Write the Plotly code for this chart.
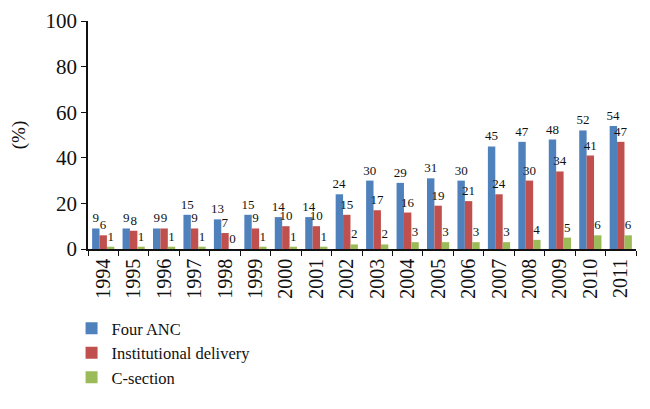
import plotly.graph_objects as go

years = [str(y) for y in range(1994, 2012)]
four_anc = [9, 9, 9, 15, 13, 15, 14, 14, 24, 30, 29, 31, 30, 45, 47, 48, 52, 54]
inst_delivery = [6, 8, 9, 9, 7, 9, 10, 10, 15, 17, 16, 19, 21, 24, 30, 34, 41, 47]
c_section = [1, 1, 1, 1, 0, 1, 1, 1, 2, 2, 3, 3, 3, 3, 4, 5, 6, 6]

series = [
    ("Four ANC", four_anc, "#4F81BD"),
    ("Institutional delivery", inst_delivery, "#C0504D"),
    ("C-section", c_section, "#9BBB59"),
]

serif = "Liberation Serif, Times New Roman, serif"

fig = go.Figure()
for name, vals, color in series:
    fig.add_trace(go.Bar(
        x=years, y=vals, name=name,
        marker=dict(color=color, line=dict(width=0)),
        text=[str(v) for v in vals],
        textposition="outside",
        textfont=dict(family=serif, size=13, color="#111"),
        constraintext="none",
        cliponaxis=False,
    ))

fig.update_layout(
    width=650, height=409,
    margin=dict(l=80, r=22, t=13, b=168, autoexpand=False),
    paper_bgcolor="white", plot_bgcolor="white",
    barmode="group", bargap=0.27, bargroupgap=0,
    font=dict(family=serif, color="#111"),
    legend=dict(
        x=-0.03, y=-0.272, xanchor="left", yanchor="top",
        font=dict(family=serif, size=16.5, color="#111"),
        itemwidth=30, tracegroupgap=0,
        bgcolor="rgba(0,0,0,0)",
    ),
    showlegend=True,
)

fig.update_xaxes(
    type="category",
    showline=True, linecolor="#111", linewidth=1.5,
    ticks="outside", tickson="boundaries", ticklen=5, tickcolor="#111",
    tickangle=-90,
    tickfont=dict(family=serif, size=20, color="#111"),
    showgrid=False, zeroline=False,
)
fig.update_yaxes(
    range=[0, 100], dtick=20,
    showline=True, linecolor="#111", linewidth=1.5,
    ticks="outside", ticklen=5, tickcolor="#111",
    tickfont=dict(family=serif, size=21, color="#111"),
    showgrid=False, zeroline=False,
    title=dict(text="(%)", font=dict(family=serif, size=19, color="#111"), standoff=18),
)

fig.write_html("out.html")
